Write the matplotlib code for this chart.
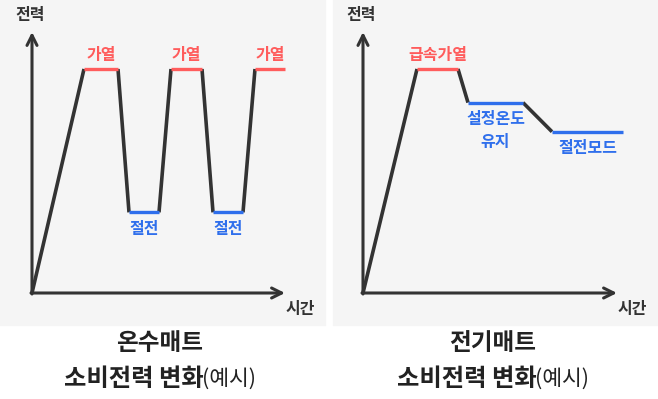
import matplotlib.pyplot as plt
from matplotlib.patches import Rectangle
from matplotlib.transforms import Affine2D

plt.rcParams['font.family'] = ['Noto Sans CJK KR', 'DejaVu Sans']

# power profiles (time in arbitrary units, power in % of max)
hot_water_time = [0, 5.2, 8.6, 9.7, 12.7, 13.9, 17.0, 18.1, 21.1, 22.3, 25.3]
hot_water_power = [0, 100, 100, 36, 36, 100, 100, 36, 36, 100, 100]
# which segment is a flat state: 'heat', 'save' or None (transition)
hot_water_state = [None, 'heat', None, 'save', None, 'heat', None, 'save', None, 'heat']
hot_water_labels = ['가열', '절전', '가열', '절전', '가열']

electric_time = [0, 5.4, 9.5, 10.5, 16.0, 18.9, 26.0]
electric_power = [0, 100, 100, 85, 85, 72, 72]
electric_state = [None, 'heat', None, 'save', None, 'save']
electric_labels = ['급속가열', '설정온도\n유지', '절전모드']

titles = ['온수매트', '전기매트']
subtitle = '소비전력 변화'
subtitle_note = '(예시)'
y_label = '전력'
x_label = '시간'

DARK = '#333333'
RED = '#ff5c5c'
BLUE = '#2f6fec'
BG = '#f5f5f5'
LBL = 11.5
PX = 0.72  # points per pixel at dpi 100

fig = plt.figure(figsize=(6.58, 3.99), dpi=100)
ax = fig.add_axes([0, 0, 1, 1])
ax.set_xlim(0, 658)
ax.set_ylim(399, 0)
ax.axis('off')

panels = [
    dict(x0=0, origin=(32, 293), x_end=285, time=hot_water_time, power=hot_water_power,
         state=hot_water_state, labels=hot_water_labels, title=titles[0]),
    dict(x0=333, origin=(363, 293), x_end=617, time=electric_time, power=electric_power,
         state=electric_state, labels=electric_labels, title=titles[1]),
]

for p in panels:
    ax.add_patch(Rectangle((p['x0'], 0), 325, 325, color=BG, zorder=0))
    ox, oy = p['origin']

    # axes with arrow heads
    arrow = dict(arrowstyle='->', lw=2.2, color=DARK, mutation_scale=18, shrinkA=0, shrinkB=0)
    ax.annotate('', xy=(ox, 32), xytext=(ox, oy + 1), arrowprops=arrow)
    ax.annotate('', xy=(p['x_end'], oy), xytext=(ox - 1, oy), arrowprops=arrow)
    ax.text(ox - 2, 15, y_label, ha='center', va='center', fontsize=LBL,
            fontweight='bold', color=DARK)
    ax.text(p['x_end'] + 15, 309, x_label, ha='center', va='center', fontsize=LBL,
            fontweight='bold', color=DARK)

    # data transform: 10 px per time unit, 2.24 px per power %
    tr = Affine2D().scale(10, -2.24).translate(ox, oy) + ax.transData
    t, pw = p['time'], p['power']
    li = 0
    for i, st in enumerate(p['state']):
        xs, ys = [t[i], t[i + 1]], [pw[i], pw[i + 1]]
        if st is None:
            ax.plot(xs, ys, color=DARK, lw=2.6, transform=tr, solid_capstyle='butt', zorder=2)
            continue
        col = RED if st == 'heat' else BLUE
        ax.plot(xs, ys, color=col, lw=2.4, transform=tr, solid_capstyle='butt', zorder=3)
        xm = (t[i] + t[i + 1]) / 2
        lab = p['labels'][li]
        li += 1
        if st == 'heat':
            ax.annotate(lab, xy=(xm, pw[i]), xycoords=tr, xytext=(0, 14 * PX),
                        textcoords='offset points', ha='center', va='center',
                        fontsize=LBL, fontweight='bold', color=col)
        else:
            for k, line in enumerate(lab.split('\n')):
                ax.annotate(line, xy=(xm, pw[i]), xycoords=tr,
                            xytext=(0, -(16.5 + 23 * k) * PX), textcoords='offset points',
                            ha='center', va='center', fontsize=LBL, fontweight='bold',
                            color=col)

    # titles under the panel
    cx = p['x0'] + 160
    ax.text(cx, 343, p['title'], ha='center', va='center', fontsize=17,
            fontweight='bold', color='#222222')
    t1 = ax.text(cx - 26, 379, subtitle, ha='center', va='center', fontsize=17.5,
                 fontweight='bold', color='#222222')
    ax.annotate(subtitle_note, xycoords=t1, xy=(1, 0.5), xytext=(-1.5, 0),
                textcoords='offset points', ha='left', va='center', fontsize=15.5,
                color='#222222')

fig.savefig('out.png', dpi=100, facecolor='white')
